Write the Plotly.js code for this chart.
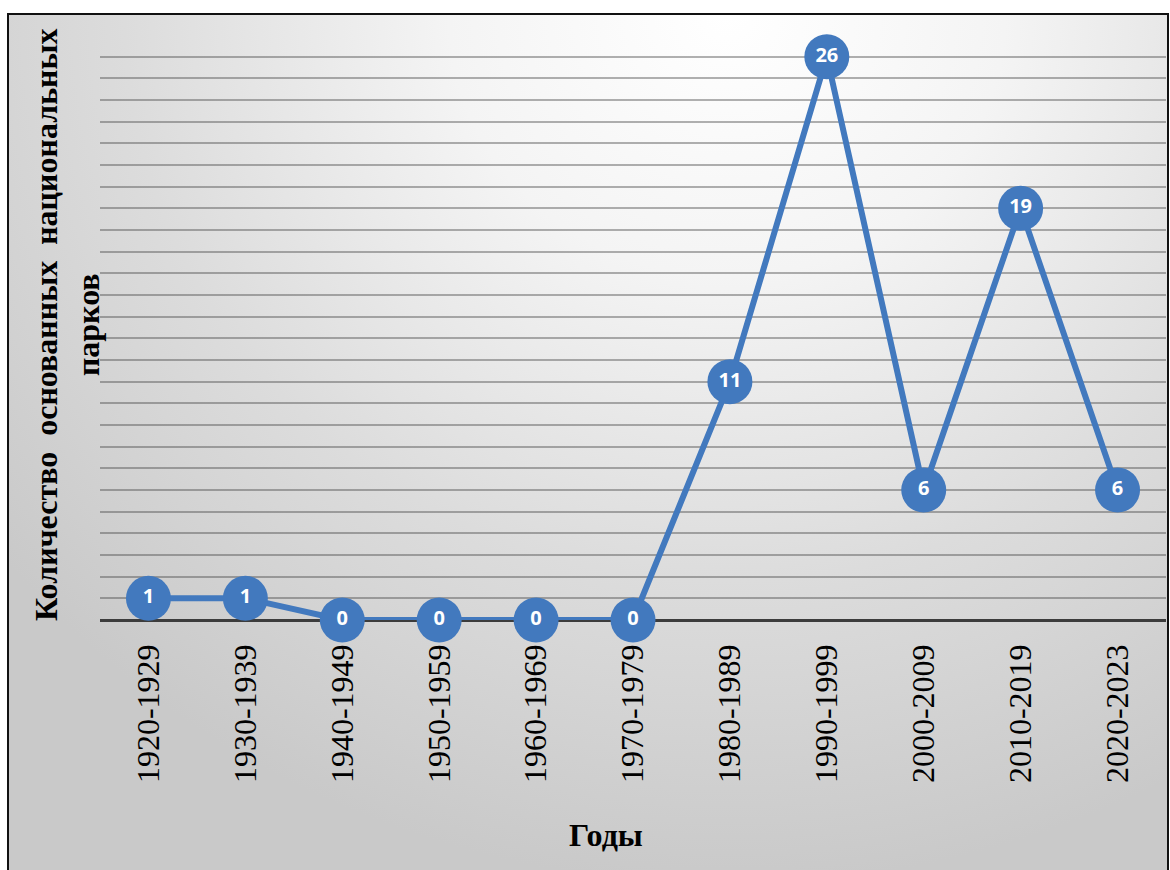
<!DOCTYPE html>
<html>
<head>
<meta charset="utf-8">
<script src="https://cdn.plot.ly/plotly-3.0.1.min.js"></script>
<style>
  html, body { margin: 0; padding: 0; background: #ffffff; width: 1170px; height: 870px; overflow: hidden; }
  #frame {
    position: absolute; left: 7px; top: 13px; width: 1158px; height: 870px;
    border-left: 2px solid #111; border-top: 2px solid #111; border-right: 2px solid #111;
    background: radial-gradient(ellipse 80% 100% at 62% 0%, #ffffff 0%, #f4f4f4 30%, #dcdcdc 65%, #c9c9c9 100%);
  }
  #chart { position: absolute; left: 0; top: 0; width: 1170px; height: 870px; }
</style>
</head>
<body>
<div id="frame"></div>
<div id="chart"></div>
<script>
const categories = ["1920-1929","1930-1939","1940-1949","1950-1959","1960-1969","1970-1979","1980-1989","1990-1999","2000-2009","2010-2019","2020-2023"];
const parks = [1, 1, 0, 0, 0, 0, 11, 26, 6, 19, 6];
const xTitle = "Годы";
const yTitleLines = ["Количество&nbsp; основанных&nbsp; национальных", "парков"];

const trace = {
  type: "scatter",
  mode: "lines+markers+text",
  x: categories,
  y: parks,
  text: parks.map(String),
  texttemplate: "<b>%{text}</b>",
  textposition: "middle center",
  textfont: { family: "Open Sans, Noto Sans, sans-serif", size: 20, color: "#ffffff" },
  line: { color: "#4279BE", width: 6 },
  marker: { color: "#4279BE", size: 45, line: { width: 0 } },
  cliponaxis: false,
  hoverinfo: "x+y"
};

const layout = {
  width: 1170, height: 870,
  margin: { l: 100, r: 4, t: 35, b: 250 },
  paper_bgcolor: "rgba(0,0,0,0)",
  plot_bgcolor: "rgba(0,0,0,0)",
  showlegend: false,
  xaxis: {
    type: "category",
    range: [-0.5, 10.5],
    tickangle: -90,
    tickfont: { family: "Liberation Serif, Times New Roman, serif", size: 32, color: "#000" },
    ticks: "",
    ticklabelstandoff: 17,
    showgrid: false,
    showline: false,
    zeroline: false
  },
  yaxis: {
    range: [0, 27],
    dtick: 1,
    showticklabels: false,
    ticks: "",
    showgrid: true,
    gridcolor: "rgba(70,70,70,0.42)",
    gridwidth: 2,
    zeroline: true,
    zerolinecolor: "#3c3c3c",
    zerolinewidth: 3,
    showline: false
  },
  annotations: [
    {
      text: "<b>" + xTitle + "</b>",
      xref: "paper", yref: "paper",
      x: (606 - 100) / 1066, y: -(835 - 620) / 585,
      xanchor: "center", yanchor: "middle",
      showarrow: false,
      font: { family: "Liberation Serif, Times New Roman, serif", size: 32, color: "#000" }
    },
    {
      text: "<b>" + yTitleLines.join("<br>") + "</b>",
      xref: "paper", yref: "paper",
      x: (67 - 100) / 1066, y: (620 - 325) / 585,
      xanchor: "center", yanchor: "middle",
      textangle: -90,
      showarrow: false,
      font: { family: "Liberation Serif, Times New Roman, serif", size: 32, color: "#000" }
    }
  ]
};

Plotly.newPlot("chart", [trace], layout, { displayModeBar: false, staticPlot: true });
</script>
</body>
</html>
